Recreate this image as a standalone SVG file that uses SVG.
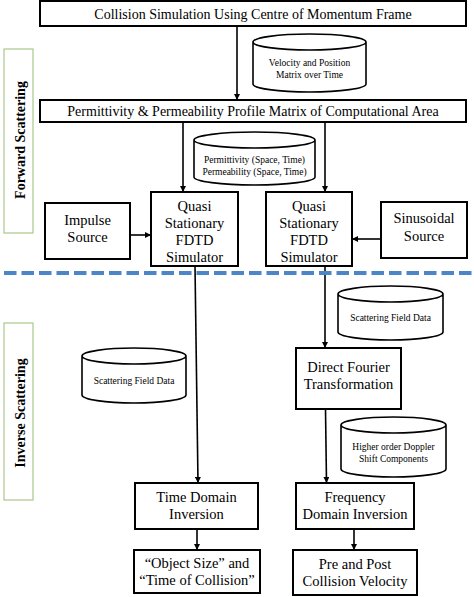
<svg xmlns="http://www.w3.org/2000/svg" width="474" height="597" viewBox="0 0 474 597">
<defs>
<style>
.box{fill:#fff;stroke:#000;stroke-width:2}
.cyl{fill:#fff;stroke:#000;stroke-width:1.6}
text{font-family:'Liberation Serif','DejaVu Serif',serif;fill:#000;text-anchor:middle}
.t{font-size:14px}
.tq{font-size:14.5px}
.ts{font-size:9.5px}
.tb{font-size:14px;font-weight:bold}
.c{stroke:#000;stroke-width:1.6;fill:none;marker-end:url(#ah)}
</style>
<marker id="ah" viewBox="0 0 10 10" refX="10" refY="5" markerWidth="6" markerHeight="6" markerUnits="userSpaceOnUse" orient="auto">
<path d="M0,0 L10,5 L0,10 z" fill="#000"/>
</marker>
</defs>
<rect width="474" height="597" fill="#fff"/>

<g id="connectors">
<line class="c" x1="237" y1="26" x2="237" y2="100"/>
<line class="c" x1="183" y1="122" x2="183" y2="192"/>
<line class="c" x1="325" y1="122" x2="325" y2="192"/>
<line class="c" x1="130" y1="235" x2="151" y2="235"/>
<line class="c" x1="381" y1="239" x2="352" y2="239"/>
<line class="c" x1="195" y1="266" x2="198" y2="483"/>
<line class="c" x1="325" y1="266" x2="325" y2="348"/>
<line class="c" x1="325.5" y1="409" x2="326.5" y2="483"/>
<line class="c" x1="197" y1="529" x2="197" y2="550"/>
<line class="c" x1="354" y1="529" x2="354" y2="550"/>
</g>

<g id="divider">
<line x1="4" y1="273" x2="474" y2="273" stroke="#4a86c8" stroke-width="4" stroke-dasharray="12.5,5"/>
</g>

<g id="forward-label">
<rect x="4" y="49" width="29" height="184" fill="#fff" stroke="#a8c98c" stroke-width="1.2"/>
<text class="tb" transform="translate(25,140) rotate(-90)">Forward Scattering</text>
</g>

<g id="inverse-label">
<rect x="4" y="323" width="29" height="177" fill="#fff" stroke="#a8c98c" stroke-width="1.2"/>
<text class="tb" transform="translate(25,413) rotate(-90)">Inverse Scattering</text>
</g>

<g id="collision-sim">
<rect class="box" x="40" y="1" width="426" height="25"/>
<text class="t" x="253" y="18.5">Collision Simulation Using Centre of Momentum Frame</text>
</g>

<g id="velocity-db">
<path class="cyl" d="M253,42 L253,84 A56.5,8 0 0 0 366,84 L366,42 A56.5,8 0 0 0 253,42 A56.5,8 0 0 0 366,42"/>
<text class="ts" x="309.5" y="66">Velocity and Position</text>
<text class="ts" x="309.5" y="78">Matrix over Time</text>
</g>

<g id="permittivity-profile">
<rect class="box" x="40" y="100" width="426" height="22"/>
<text class="t" x="253" y="116">Permittivity &amp; Permeability Profile Matrix of Computational Area</text>
</g>

<g id="perm-db">
<path class="cyl" d="M194,140 L194,177 A60.5,8 0 0 0 315,177 L315,140 A60.5,8 0 0 0 194,140 A60.5,8 0 0 0 315,140"/>
<text class="ts" x="254.5" y="163">Permittivity (Space, Time)</text>
<text class="ts" x="254.5" y="175">Permeability (Space, Time)</text>
</g>

<g id="impulse-source">
<rect class="box" x="45" y="203" width="85" height="56"/>
<text class="tq" x="87.5" y="225">Impulse</text>
<text class="tq" x="87.5" y="242">Source</text>
</g>

<g id="fdtd-left">
<rect class="box" x="151" y="192" width="87" height="74"/>
<text class="tq" x="194.5" y="211">Quasi</text>
<text class="tq" x="194.5" y="228">Stationary</text>
<text class="tq" x="194.5" y="245">FDTD</text>
<text class="tq" x="194.5" y="262">Simulator</text>
</g>

<g id="fdtd-right">
<rect class="box" x="266" y="192" width="86" height="74"/>
<text class="tq" x="309" y="211">Quasi</text>
<text class="tq" x="309" y="228">Stationary</text>
<text class="tq" x="309" y="245">FDTD</text>
<text class="tq" x="309" y="262">Simulator</text>
</g>

<g id="sinusoidal-source">
<rect class="box" x="381" y="202" width="86" height="56"/>
<text class="tq" x="424" y="223">Sinusoidal</text>
<text class="tq" x="424" y="241">Source</text>
</g>

<g id="scatter-db-right">
<path class="cyl" d="M338,294 L338,332 A52.5,8 0 0 0 443,332 L443,294 A52.5,8 0 0 0 338,294 A52.5,8 0 0 0 443,294"/>
<text class="ts" x="390.5" y="321">Scattering Field Data</text>
</g>

<g id="scatter-db-left">
<path class="cyl" d="M82,356 L82,395 A52,8 0 0 0 186,395 L186,356 A52,8 0 0 0 82,356 A52,8 0 0 0 186,356"/>
<text class="ts" x="134" y="384">Scattering Field Data</text>
</g>

<g id="dft">
<rect class="box" x="296" y="348" width="105" height="61"/>
<text class="tq" x="348.5" y="372">Direct Fourier</text>
<text class="tq" x="348.5" y="389">Transformation</text>
</g>

<g id="doppler-db">
<path class="cyl" d="M341,425 L341,469 A52.5,8 0 0 0 446,469 L446,425 A52.5,8 0 0 0 341,425 A52.5,8 0 0 0 446,425"/>
<text class="ts" x="393.5" y="450">Higher order Doppler</text>
<text class="ts" x="393.5" y="462">Shift Components</text>
</g>

<g id="time-domain">
<rect class="box" x="135" y="483" width="123" height="46"/>
<text class="tq" x="196.5" y="502">Time Domain</text>
<text class="tq" x="196.5" y="519">Inversion</text>
</g>

<g id="freq-domain">
<rect class="box" x="296" y="483" width="118" height="46"/>
<text class="tq" x="355" y="502">Frequency</text>
<text class="tq" x="355" y="519">Domain Inversion</text>
</g>

<g id="object-size">
<rect class="box" x="134" y="550" width="126" height="43"/>
<text class="tq" x="197" y="568">“Object Size” and</text>
<text class="tq" x="197" y="585">“Time of Collision”</text>
</g>

<g id="velocity-out">
<rect class="box" x="293" y="550" width="124" height="45"/>
<text class="tq" x="355" y="569">Pre and Post</text>
<text class="tq" x="355" y="586">Collision Velocity</text>
</g>
</svg>
